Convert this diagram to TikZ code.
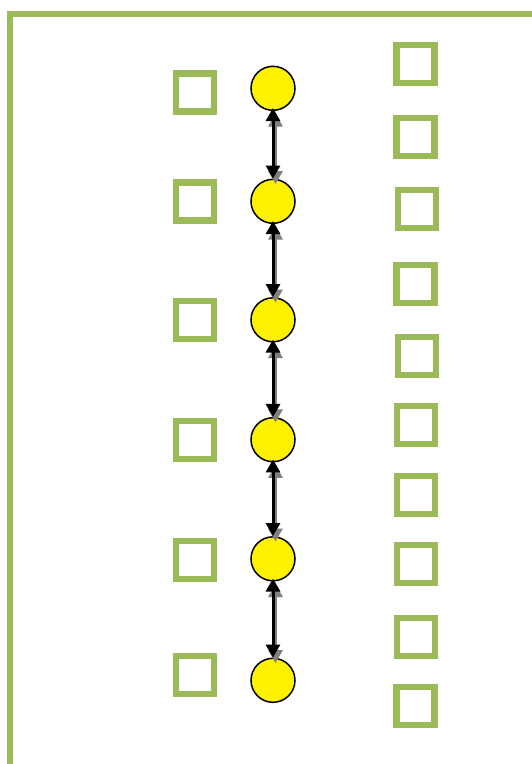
\documentclass[tikz,border=0pt]{standalone}
\usetikzlibrary{arrows.meta}
\definecolor{olive}{HTML}{9BBB59}
\definecolor{shadowgrey}{HTML}{808080}
\begin{document}
\begin{tikzpicture}[x=1pt,y=-1pt,
  sq/.style={draw=olive,line width=6.3pt,minimum size=38pt,inner sep=0pt,fill=white},
  ball/.style={circle,draw=black,line width=1.5pt,fill=yellow,minimum size=44pt,inner sep=0pt},
  link/.style={line width=3pt,{Triangle[length=13pt,width=14pt]}-{Triangle[length=13pt,width=14pt]}},
  linkshadow/.style={link,draw=shadowgrey,fill=shadowgrey},
  frame/.style={draw=olive,line width=6.3pt}]
\useasboundingbox (0,0) rectangle (532,764);
\coordinate (fb) at (9.7,780);
\coordinate (fc) at (9.7,14.2);
\coordinate (fr) at (550,14.2);
\draw[frame] (fb) -- (fc) -- (fr);
% left squares
\foreach \i/\y in {1/92.5,2/201.5,3/319.7,4/440,5/560.3,6/675}
  \node[sq] (l\i) at (195,\y) {};
% right squares
\foreach \i/\x/\y in {1/415.5/64,2/415.5/136.7,3/417/209,4/415.5/284.3,5/417/356.3,6/416/424.8,7/416/494.8,8/416/564.3,9/416/637,10/415.5/706.3}
  \node[sq] (r\i) at (\x,\y) {};
% circles
\foreach \i/\y in {1/88.3,2/201.3,3/319.8,4/439.7,5/558.8,6/680.3}
  \node[ball] (c\i) at (273,\y) {};
% connectors with shadow
\foreach \a/\b in {1/2,2/3,3/4,4/5,5/6}{
  \draw[linkshadow,transform canvas={shift={(2.5pt,-5.5pt)}},shorten <=-3pt] (c\a.south) -- (c\b.north);
  \draw[link,shorten <=-3pt] (c\a.south) -- (c\b.north);
}
\end{tikzpicture}
\end{document}
